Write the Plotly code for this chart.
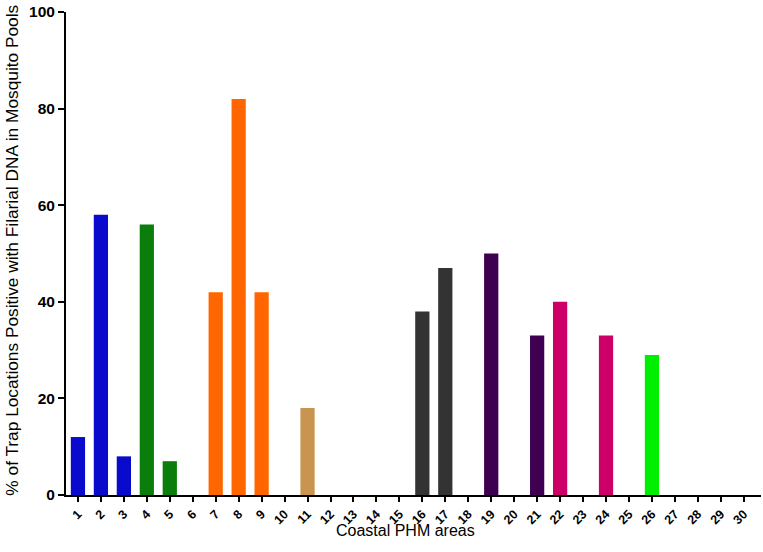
import plotly.graph_objects as go

areas = list(range(1, 31))
percent_positive = [12, 58, 8, 56, 7, 0, 42, 82, 42, 0, 18, 0, 0, 0, 0,
                    38, 47, 0, 50, 0, 33, 40, 0, 33, 0, 29, 0, 0, 0, 0]
bar_colors = ["#0a0acc", "#0a0acc", "#0a0acc", "#0a7d0a", "#0a7d0a", "#ffffff",
              "#ff6600", "#ff6600", "#ff6600", "#ffffff", "#c8944f", "#ffffff",
              "#ffffff", "#ffffff", "#ffffff", "#333333", "#333333", "#ffffff",
              "#3f0052", "#ffffff", "#3f0052", "#cc0066", "#ffffff", "#cc0066",
              "#ffffff", "#00ee00", "#ffffff", "#ffffff", "#ffffff", "#ffffff"]
y_ticks = [0, 20, 40, 60, 80, 100]
x_title = "Coastal PHM areas"
y_title = "% of Trap Locations Positive with Filarial DNA in Mosquito Pools"

fig = go.Figure(go.Bar(
    x=areas, y=percent_positive,
    marker=dict(color=bar_colors, line=dict(width=0)),
    width=0.62,
))

font_family = "Liberation Sans, Arial, sans-serif"
fig.update_layout(
    width=763, height=552,
    margin=dict(l=66, r=2, t=12, b=57, autoexpand=False),
    plot_bgcolor="white", paper_bgcolor="white",
    showlegend=False,
    font=dict(family=font_family, color="black"),
    annotations=[
        dict(text=x_title, xref="paper", yref="paper", x=0.488, y=-0.074,
             xanchor="center", yanchor="middle", showarrow=False,
             font=dict(size=16, family=font_family, color="black")),
        dict(text=y_title, xref="paper", yref="paper", x=-0.0777, y=0.508,
             xanchor="center", yanchor="middle", textangle=-90, showarrow=False,
             font=dict(size=17.3, family=font_family, color="black")),
    ],
)
fig.update_xaxes(
    automargin=False,
    range=[0.48, 30.75],
    tickmode="array", tickvals=areas, ticktext=[str(a) for a in areas],
    tickangle=-45,
    tickfont=dict(size=12.5, family=font_family, color="black", weight="bold"),
    ticks="outside", ticklen=5, tickwidth=2, tickcolor="black",
    showline=True, linecolor="black", linewidth=2,
    showgrid=False, zeroline=False,
)
fig.update_yaxes(
    automargin=False,
    range=[0, 100],
    tickmode="array", tickvals=y_ticks,
    tickfont=dict(size=15.5, family=font_family, color="black", weight="bold"),
    ticks="outside", ticklen=6, tickwidth=2, tickcolor="black",
    showline=True, linecolor="black", linewidth=2,
    showgrid=False, zeroline=False,
)

fig.write_html("out.html", config={"displayModeBar": False},
               post_script="document.body.style.margin='0';")
